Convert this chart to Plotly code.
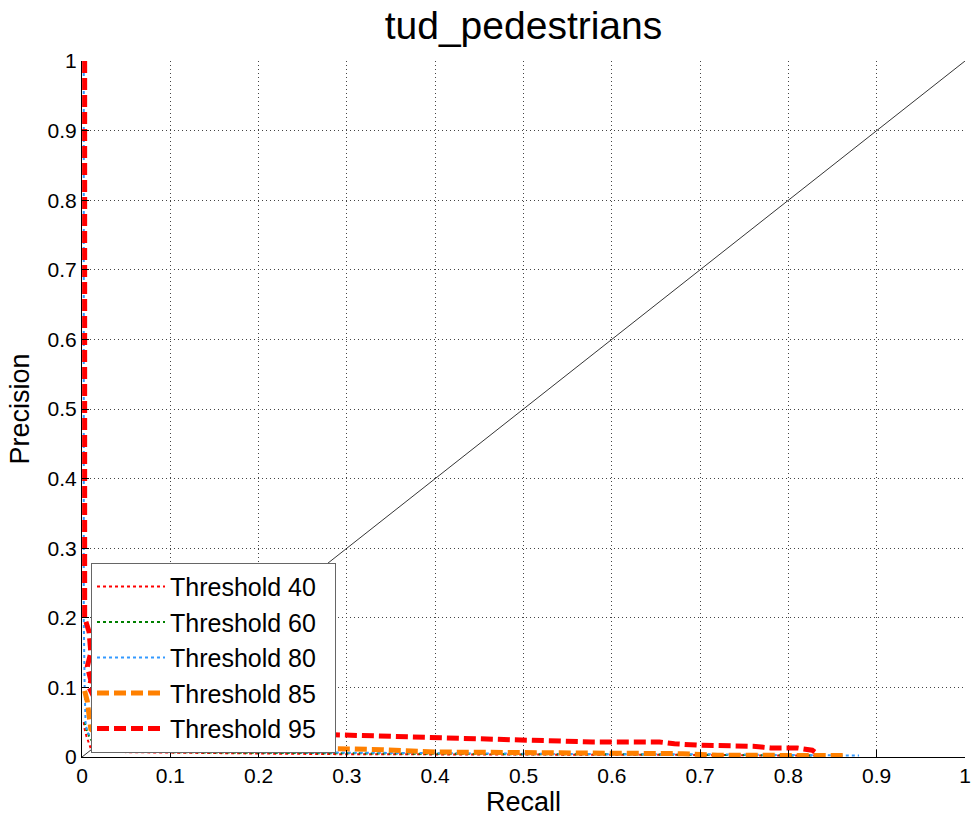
import plotly.graph_objects as go

series_names = ["Threshold 40", "Threshold 60", "Threshold 80", "Threshold 85", "Threshold 95"]

# Threshold 40 (red dotted)
r40 = [0.002, 0.003, 0.005, 0.01, 0.05, 0.1, 0.2, 0.3, 0.4, 0.5, 0.6, 0.7, 0.8, 0.83]
p40 = [0.05, 0.04, 0.03, 0.012, 0.007, 0.006, 0.005, 0.004, 0.004, 0.003, 0.003, 0.003, 0.002, 0.002]
# Threshold 60 (green dotted)
r60 = [0.003, 0.005, 0.008, 0.01, 0.05, 0.1, 0.2, 0.3, 0.4, 0.5, 0.6, 0.7, 0.8, 0.84]
p60 = [0.05, 0.04, 0.03, 0.025, 0.01, 0.007, 0.006, 0.005, 0.005, 0.004, 0.004, 0.003, 0.003, 0.002]
# Threshold 80 (blue dotted)
r80 = [0.002, 0.002, 0.003, 0.004, 0.006, 0.01, 0.05, 0.1, 0.2, 0.3, 0.4, 0.5, 0.6, 0.7, 0.8, 0.88]
p80 = [1.0, 0.2, 0.1, 0.05, 0.035, 0.03, 0.012, 0.008, 0.007, 0.006, 0.005, 0.005, 0.004, 0.004, 0.003, 0.002]
# Threshold 85 (orange dashed)
r85 = [0.003, 0.006, 0.008, 0.01, 0.02, 0.05, 0.1, 0.2, 0.29, 0.34, 0.4, 0.58, 0.68, 0.72, 0.81, 0.867]
p85 = [0.095, 0.08, 0.06, 0.04, 0.03, 0.022, 0.017, 0.014, 0.013, 0.0105, 0.0072, 0.0058, 0.0048, 0.0026, 0.0024, 0.002]
# Threshold 95 (red dashed)
r95 = [0.003, 0.003, 0.008, 0.01, 0.006, 0.01, 0.008, 0.02, 0.05, 0.1, 0.2, 0.295, 0.397, 0.499, 0.578, 0.654, 0.671, 0.699, 0.76, 0.78, 0.81, 0.827, 0.831]
p95 = [1.0, 0.2, 0.18, 0.15, 0.13, 0.11, 0.1, 0.07, 0.05, 0.04, 0.035, 0.0313, 0.0289, 0.025, 0.0216, 0.0216, 0.019, 0.0169, 0.0154, 0.013, 0.013, 0.0097, 0.006]

diag = [0, 1]
ticks = [0, 0.1, 0.2, 0.3, 0.4, 0.5, 0.6, 0.7, 0.8, 0.9, 1]
tick_text = ["0", "0.1", "0.2", "0.3", "0.4", "0.5", "0.6", "0.7", "0.8", "0.9", "1"]

pad = "\u00a0\u00a0"

fig = go.Figure()
fig.add_trace(go.Scatter(x=diag, y=diag, mode="lines", line=dict(color="black", width=0.8),
                         showlegend=False, hoverinfo="skip"))
fig.add_trace(go.Scatter(x=r40, y=p40, mode="lines", name=series_names[0] + pad,
                         line=dict(color="#FF0000", width=2, dash="dot")))
fig.add_trace(go.Scatter(x=r60, y=p60, mode="lines", name=series_names[1] + pad,
                         line=dict(color="#008000", width=2, dash="dot")))
fig.add_trace(go.Scatter(x=r80, y=p80, mode="lines", name=series_names[2] + pad,
                         line=dict(color="#3399FF", width=2, dash="dot")))
fig.add_trace(go.Scatter(x=r85, y=p85, mode="lines", name=series_names[3] + pad,
                         line=dict(color="#FF8000", width=5, dash="12px,5px")))
fig.add_trace(go.Scatter(x=r95, y=p95, mode="lines", name=series_names[4] + pad,
                         line=dict(color="#FF0000", width=5, dash="12px,5px")))

axis_common = dict(range=[0, 1], tickvals=ticks, ticktext=tick_text, showgrid=True,
                   gridcolor="#444444", griddash="1px,3px", gridwidth=1,
                   showline=True, linecolor="black", linewidth=1, mirror=False,
                   ticks="inside", ticklen=7, tickcolor="black", zeroline=False,
                   automargin=False,
                   tickfont=dict(size=21, color="black"))

fig.update_layout(
    width=971, height=817,
    margin=dict(l=82, r=6, t=61, b=60, pad=0),
    paper_bgcolor="white", plot_bgcolor="white",
    font=dict(family="Liberation Sans, Arial, sans-serif", color="black"),
    title=dict(text="tud_pedestrians", x=0.5, xref="paper", xanchor="center",
               y=0.969, yref="container", yanchor="middle",
               font=dict(size=39, color="black")),
    xaxis=dict(title=dict(text="Recall", font=dict(size=27), standoff=9), **axis_common),
    yaxis=dict(title=dict(text="Precision", font=dict(size=27), standoff=10), **axis_common),
    legend=dict(x=0.0102, y=0.006, xanchor="left", yanchor="bottom",
                bgcolor="white", bordercolor="#666666", borderwidth=1,
                font=dict(size=25, color="black"), itemwidth=68),
)

fig.write_html("out.html", config={"displayModeBar": False},
               post_script="document.body.style.margin='0px';")
